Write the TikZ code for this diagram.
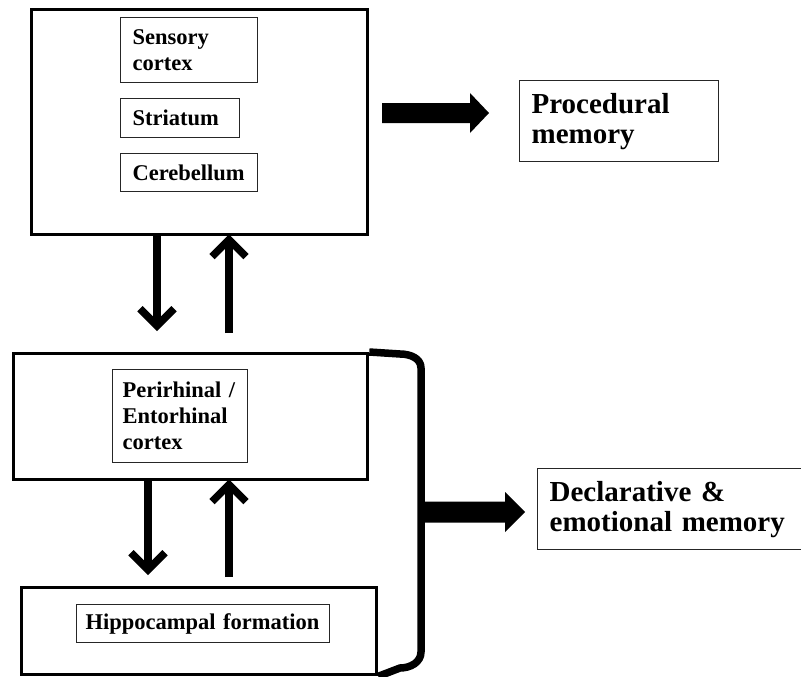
\documentclass[tikz,border=0pt]{standalone}
\usepackage{fontspec}
\setmainfont{Liberation Serif}
\usetikzlibrary{arrows.meta}
\tikzset{
  bigbox/.style={draw=black, line width=3.3pt, fill=white, anchor=north west, inner sep=0pt},
  inbox/.style={draw=black!85, line width=1.1pt, anchor=north west, align=left, inner ysep=0pt,
    font=\bfseries\fontsize{22.5}{26}\selectfont},
  membox/.style={draw=black!85, line width=1.3pt, anchor=north west, align=left, inner ysep=0pt,
    font=\bfseries\fontsize{29}{30}\selectfont},
  thinarrow/.style={line width=7.5pt, -{Straight Barb[length=17pt,width=34pt]}},
  blockfill/.style={fill=black},
  bracket/.style={line width=7.5pt, line join=round}
}
\begin{document}
\begin{tikzpicture}[x=1pt,y=-1pt]
\useasboundingbox[fill=white] (0,0) rectangle (801,677);

% big boxes
\node[bigbox, minimum width=336pt, minimum height=225pt] (top) at (30,8) {};
\node[bigbox, minimum width=354pt, minimum height=126pt] (mid) at (12,352) {};
\node[bigbox, minimum width=355pt, minimum height=87pt] (bot) at (20,586) {};

% inner boxes
\node[inbox, inner xsep=12pt, text width=113pt, minimum height=65pt] (sens) at (120,17) {Sensory\\cortex};
\node[inbox, inner xsep=12pt, text width=95pt, minimum height=39pt] (stri) at (120,98) {Striatum};
\node[inbox, inner xsep=12pt, text width=113pt, minimum height=38pt] (cere) at (120,153) {Cerebellum};
\node[inbox, inner xsep=10pt, text width=115pt, minimum height=93pt] (peri) at (112,369) {Perirhinal /\\Entorhinal\\cortex};
\node[inbox, inner xsep=9pt, text width=235pt, minimum height=38pt] (hipp) at (76,604) {Hippocampal formation};

% memory boxes
\node[membox, inner xsep=12pt, text width=175pt, minimum height=81pt] (proc) at (519,80) {Procedural\\memory};
\node[membox, inner xsep=12pt, text width=240pt, minimum height=81pt] (decl) at (537,468) {Declarative \&\\emotional memory};

% vertical arrows
\coordinate (a1e) at (157,331);
\coordinate (a2s) at (229,333);
\coordinate (b1e) at (148,575);
\coordinate (b2s) at (229,577);
\draw[thinarrow] (top.south -| a1e) -- (a1e);
\draw[thinarrow] (a2s) -- ([yshift=2pt]top.south -| a2s);
\draw[thinarrow] (mid.south -| b1e) -- (b1e);
\draw[thinarrow] (b2s) -- ([yshift=2pt]mid.south -| b2s);

% bracket
\draw[bracket] (mid.north east) -- (400,354) to[out=0,in=90] (421,368) -- (421,652)
  to[out=-90,in=0] (400,668) -- (bot.south east);

% block arrows
\coordinate (pa) at (382,113);
\fill[blockfill] (pa) ++(0,-10) -- ++(88,0) -- ++(0,-10) -- ++(19,20) -- ++(-19,20)
  -- ++(0,-10) -- ++(-88,0) -- cycle;
\coordinate (da) at (420,512);
\fill[blockfill] (da) ++(0,-10.5) -- ++(85,0) -- ++(0,-9.5) -- ++(20,20) -- ++(-20,20)
  -- ++(0,-9.5) -- ++(-85,0) -- cycle;
\end{tikzpicture}
\end{document}
